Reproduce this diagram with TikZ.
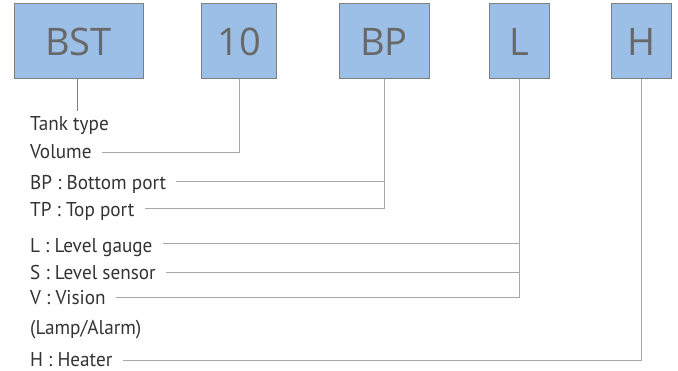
\documentclass[tikz,border=0pt]{standalone}
\usepackage{fontspec}
\setmainfont{PT Sans}[FakeStretch=0.96]
\newfontfamily\boxfont{Open Sans}
\definecolor{boxfill}{HTML}{9BBFE6}
\definecolor{boxdraw}{HTML}{7F7F7F}
\definecolor{boxtext}{HTML}{686868}
\definecolor{labtext}{HTML}{333333}
\definecolor{connc}{HTML}{A8A8A8}
\begin{document}
\begin{tikzpicture}[x=1pt,y=-1pt,
  codebox/.style={draw=boxdraw,line width=1pt,fill=boxfill,text=boxtext,
    font=\boxfont\fontsize{38}{40}\selectfont,minimum height=75pt,inner sep=0pt},
  lab/.style={anchor=west,text=labtext,font=\fontsize{20}{22}\selectfont,
    text height=14pt,text depth=0pt,inner ysep=0pt,inner xsep=10pt},
  conn/.style={draw=connc,line width=1pt},
  darkconn/.style={draw=boxdraw,line width=0.8pt}]
\useasboundingbox (0,0) rectangle (678,371);
% code boxes
\node[codebox,minimum width=129pt] (bst) at (78.5,41.5) {BST};
\node[codebox,minimum width=75pt] (v10) at (239,41.5) {10};
\node[codebox,minimum width=90pt] (bp) at (384,41.5) {BP};
\node[codebox,minimum width=60pt] (l) at (519.5,41.5) {L};
\node[codebox,minimum width=60pt] (h) at (641.5,41.5) {H};
% labels
\node[lab] (tank) at (20,123.5) {Tank type};
\node[lab] (volume) at (20,152) {Volume};
\node[lab] (bpl) at (20,183) {BP : Bottom port};
\node[lab] (tp) at (20,210) {TP : Top port};
\node[lab] (gauge) at (20,245.5) {L : Level gauge};
\node[lab] (sensor) at (20,272.5) {S : Level sensor};
\node[lab] (vis) at (20,298) {V : Vision};
\node[lab] (lamp) at (20,328) {(Lamp/Alarm)};
\node[lab] (heater) at (20,359.5) {H : Heater};
% connectors
\coordinate (tankend) at (77,111);
\draw[darkconn] (bst.south -| tankend) -- (tankend);
\draw[conn] (v10.south) |- ([yshift=-1pt]volume.east);
\draw[conn] (bp.south) |- ([yshift=1pt]tp.east);
\draw[conn] ([yshift=1.5pt]bpl.east) -- ([yshift=1.5pt]bpl.east -| bp.south);
\draw[conn] (l.south) |- (vis.east);
\draw[conn] ([yshift=1.5pt]gauge.east) -- ([yshift=1.5pt]gauge.east -| l.south);
\draw[conn] (sensor.east) -- (sensor.east -| l.south);
\draw[conn] (h.south) |- ([yshift=-1.5pt]heater.east);
\end{tikzpicture}
\end{document}
